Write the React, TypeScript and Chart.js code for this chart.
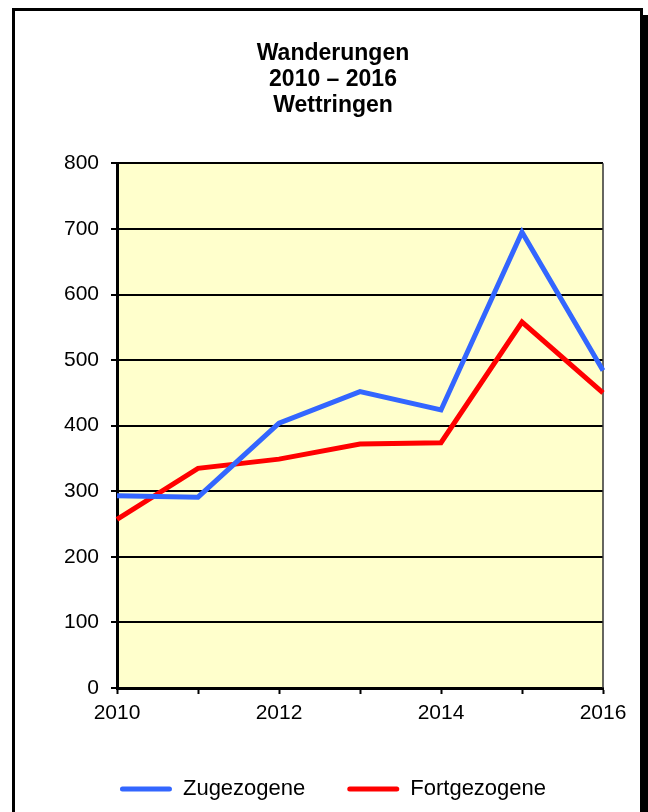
import React, { useEffect, useRef } from "react";
import { Chart, registerables } from "chart.js";

Chart.register(...registerables);

const years = ["2010", "2011", "2012", "2013", "2014", "2015", "2016"];
const zugezogene = [293, 291, 404, 452, 424, 695, 484];
const fortgezogene = [257, 335, 349, 372, 374, 558, 450];
const titleLines = ["Wanderungen", "2010 – 2016", "Wettringen"];
const seriesNames = ["Zugezogene", "Fortgezogene"];
const seriesColors = ["#3366FF", "#FF0000"];
const yMin = 0;
const yMax = 800;
const yStep = 100;

const FONT = "'Liberation Sans', Arial, Helvetica, sans-serif";

const plotBg = {
  id: "plotBg",
  beforeDraw(chart: any) {
    const { ctx, chartArea: a } = chart;
    ctx.save();
    ctx.fillStyle = "#FFFFCC";
    ctx.fillRect(a.left, a.top, a.right - a.left, a.bottom - a.top);
    ctx.restore();
  },
  beforeDatasetsDraw(chart: any) {
    const { ctx, chartArea: a } = chart;
    ctx.save();
    ctx.strokeStyle = "#333";
    ctx.lineWidth = 1.5;
    ctx.beginPath();
    ctx.moveTo(a.right, a.top);
    ctx.lineTo(a.right, a.bottom);
    ctx.stroke();
    ctx.restore();
  },
};

export default function App() {
  const ref = useRef<HTMLCanvasElement | null>(null);

  useEffect(() => {
    if (!ref.current) return;
    const chart = new Chart(ref.current, {
      type: "line",
      data: {
        labels: years,
        datasets: [
          {
            label: seriesNames[0],
            data: zugezogene,
            borderColor: seriesColors[0],
            backgroundColor: seriesColors[0],
            borderWidth: 5,
            pointRadius: 0,
            tension: 0,
            fill: false,
          },
          {
            label: seriesNames[1],
            data: fortgezogene,
            borderColor: seriesColors[1],
            backgroundColor: seriesColors[1],
            borderWidth: 5,
            pointRadius: 0,
            tension: 0,
            fill: false,
          },
        ],
      },
      options: {
        responsive: false,
        animation: false,
        devicePixelRatio: 1,
        layout: { padding: { left: 63, right: 45, top: 0, bottom: 2 } },
        scales: {
          x: {
            type: "category",
            offset: false,
            grid: {
              display: true,
              drawOnChartArea: false,
              drawTicks: true,
              tickLength: 6,
              tickColor: "#000",
              tickWidth: 2,
            },
            border: { display: true, color: "#000", width: 3 },
            ticks: {
              autoSkip: false,
              maxRotation: 0,
              padding: 7,
              color: "#000",
              font: { family: FONT, size: 21 },
              callback: (_v: any, i: number) => (i % 2 === 0 ? years[i] : ""),
            },
            afterFit: (s: any) => {
              s.height = 48;
            },
          },
          y: {
            min: yMin,
            max: yMax,
            ticks: {
              stepSize: yStep,
              padding: 12,
              color: "#000",
              font: { family: FONT, size: 21 },
            },
            grid: {
              color: "#000",
              lineWidth: 2,
              tickLength: 6,
              tickColor: "#000",
              tickWidth: 2,
            },
            border: { display: true, color: "#000", width: 3 },
            afterFit: (s: any) => {
              s.width = 54;
            },
          },
        },
        plugins: {
          tooltip: { enabled: false },
          title: {
            display: true,
            text: titleLines,
            color: "#000",
            font: { family: FONT, size: 23, weight: "bold", lineHeight: 1.15 },
            padding: { top: 40, bottom: 44 },
          },
          legend: {
            display: true,
            position: "bottom",
            labels: {
              color: "#000",
              font: { family: FONT, size: 22 },
              boxWidth: 52,
              boxHeight: 5,
              padding: 42,
              generateLabels: (c: any) =>
                (Chart.defaults.plugins.legend.labels.generateLabels as any)(c).map((l: any) => ({
                  ...l,
                  lineWidth: 0,
                  fillStyle: l.strokeStyle,
                  borderRadius: 2.5,
                })),
            },
          },
        },
      },
      plugins: [plotBg],
    } as any);
    return () => chart.destroy();
  }, []);

  return (
    <div
      style={{
        position: "absolute",
        left: 0,
        top: 0,
        width: 648,
        height: 812,
        overflow: "hidden",
        background: "#fff",
      }}
    >
      <div
        style={{
          position: "absolute",
          left: 12,
          top: 8,
          width: 631,
          height: 900,
          border: "3px solid #000",
          boxSizing: "border-box",
          boxShadow: "5px 7px 0 #000",
          background: "#fff",
        }}
      />
      <canvas
        ref={ref}
        width={648}
        height={812}
        style={{ position: "absolute", left: 0, top: 0, width: 648, height: 812 }}
      />
    </div>
  );
}
